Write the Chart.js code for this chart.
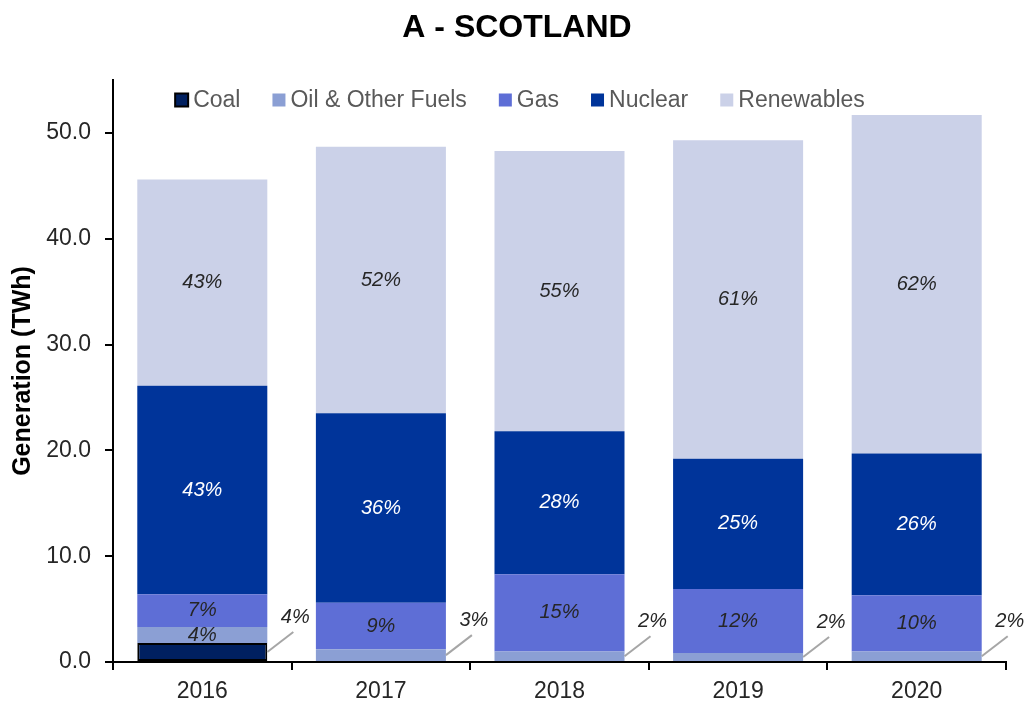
<!DOCTYPE html>
<html lang="en">
<head>
    <meta charset="UTF-8">
    <title>A - SCOTLAND</title>
    <script src="https://cdn.jsdelivr.net/npm/chart.js"></script>
    <style>
        body {
            margin: 0;
            background: #ffffff;
        }
        .chart-box {
            width: 1030px;
            height: 702px;
        }
    </style>
</head>
<body>
    <div class="chart-box">
        <canvas id="genChart"></canvas>
    </div>

    <script>
        // Generation in TWh
        const years = ['2016', '2017', '2018', '2019', '2020'];
        const coal = [1.8, 0, 0, 0, 0];
        const oil = [1.5, 1.2, 1.0, 0.85, 1.0];
        const gas = [3.1, 4.4, 7.3, 6.05, 5.3];
        const nuclear = [19.7, 17.9, 13.5, 12.3, 13.4];
        const renewables = [19.5, 25.2, 26.5, 30.1, 32.0];

        // share labels shown on the bars
        const coalPct = ['4%', '', '', '', ''];
        const oilPct = ['4%', '3%', '2%', '2%', '2%'];
        const gasPct = ['7%', '9%', '15%', '12%', '10%'];
        const nuclearPct = ['43%', '36%', '28%', '25%', '26%'];
        const renewPct = ['43%', '52%', '55%', '61%', '62%'];
        // which series has its label pulled out beside the bar
        const calloutSeries = [0, 1, 1, 1, 1];

        const chartTitle = 'A - SCOTLAND';
        const yTicksMax = 55;
        const yStep = 10;

        const pctLabels = [coalPct, oilPct, gasPct, nuclearPct, renewPct];
        const labelColors = ['#262626', '#262626', '#262626', '#ffffff', '#262626'];

        Chart.defaults.font.family = "'Liberation Sans', Arial, sans-serif";
        Chart.defaults.color = '#262626';

        // percentage labels, with leader line for the small bottom segment
        const pctPlugin = {
            id: 'pctLabels',
            afterDatasetsDraw(chart) {
                const ctx = chart.ctx;
                ctx.save();
                ctx.font = "italic 20px 'Liberation Sans', Arial, sans-serif";
                ctx.textAlign = 'center';
                ctx.textBaseline = 'middle';
                chart.data.datasets.forEach((ds, i) => {
                    const meta = chart.getDatasetMeta(i);
                    meta.data.forEach((bar, j) => {
                        const txt = pctLabels[i][j];
                        if (!txt) return;
                        const midY = (bar.y + bar.base) / 2;
                        if (calloutSeries[j] === i) {
                            const sx = bar.x + bar.width / 2;
                            const ex = sx + 26, ey = midY - 20;
                            ctx.strokeStyle = '#a6a6a6';
                            ctx.lineWidth = 2;
                            ctx.beginPath();
                            ctx.moveTo(sx, midY);
                            ctx.lineTo(ex, ey);
                            ctx.stroke();
                            ctx.fillStyle = '#262626';
                            ctx.fillText(txt, ex + 2, ey - 15);
                        } else {
                            ctx.fillStyle = labelColors[i];
                            ctx.fillText(txt, bar.x, midY);
                        }
                    });
                });
                ctx.restore();
            }
        };

        // title on top, legend inside the plot area
        const legendPlugin = {
            id: 'insideLegend',
            afterDraw(chart) {
                const ctx = chart.ctx;
                ctx.save();
                ctx.font = "bold 32px 'Liberation Sans', Arial, sans-serif";
                ctx.fillStyle = '#000000';
                ctx.textAlign = 'center';
                ctx.textBaseline = 'middle';
                ctx.fillText(chartTitle, 517, 28);

                const box = 13, gap = 5, spacing = 32;
                ctx.font = "23px 'Liberation Sans', Arial, sans-serif";
                ctx.textAlign = 'left';
                const items = chart.data.datasets.map(ds => ({
                    text: ds.label,
                    color: ds.backgroundColor,
                    border: ds.borderWidth > 0 ? ds.borderColor : null,
                    w: ctx.measureText(ds.label).width
                }));
                let total = 0;
                items.forEach((it, k) => {
                    total += box + gap + it.w + (k < items.length - 1 ? spacing : 0);
                });
                let x = 520 - total / 2;
                const y = chart.chartArea.top + 20;
                items.forEach(it => {
                    ctx.fillStyle = it.color;
                    ctx.fillRect(x, y - box / 2, box, box);
                    if (it.border) {
                        ctx.strokeStyle = it.border;
                        ctx.lineWidth = 2;
                        ctx.strokeRect(x, y - box / 2, box, box);
                    }
                    x += box + gap;
                    ctx.fillStyle = '#595959';
                    ctx.fillText(it.text, x, y + 1);
                    x += it.w + spacing;
                });
                ctx.restore();
            }
        };

        const ctx = document.getElementById('genChart').getContext('2d');
        new Chart(ctx, {
            type: 'bar',
            data: {
                labels: years,
                datasets: [
                    { label: 'Coal', data: coal, backgroundColor: '#002060', borderColor: '#000000', borderWidth: 2, borderSkipped: false },
                    { label: 'Oil & Other Fuels', data: oil, backgroundColor: '#8b9fd4', borderWidth: 0 },
                    { label: 'Gas', data: gas, backgroundColor: '#5e6ed6', borderWidth: 0 },
                    { label: 'Nuclear', data: nuclear, backgroundColor: '#00349a', borderWidth: 0 },
                    { label: 'Renewables', data: renewables, backgroundColor: '#cbd1e8', borderWidth: 0 }
                ]
            },
            options: {
                responsive: true,
                maintainAspectRatio: false,
                animation: false,
                categoryPercentage: 1,
                barPercentage: 0.728,
                layout: { padding: { left: 0, right: 24, top: 80, bottom: 0 } },
                plugins: {
                    legend: { display: false },
                    tooltip: { enabled: false },
                    title: { display: false }
                },
                scales: {
                    x: {
                        stacked: true,
                        afterFit(scale) { scale.height = 40; },
                        border: { color: '#000000', width: 2 },
                        grid: { drawOnChartArea: false, drawTicks: true, tickLength: 8, color: '#000000', lineWidth: 2 },
                        ticks: { font: { size: 23 }, color: '#262626', padding: 8 }
                    },
                    y: {
                        stacked: true,
                        min: 0,
                        max: yTicksMax,
                        afterFit(scale) { scale.width = 113; },
                        border: { color: '#000000', width: 2 },
                        grid: { drawOnChartArea: false, drawTicks: true, tickLength: 8, color: '#000000', lineWidth: 2 },
                        ticks: {
                            stepSize: yStep,
                            includeBounds: false,
                            font: { size: 23 },
                            color: '#262626',
                            padding: 14,
                            callback: v => v.toFixed(1)
                        },
                        title: {
                            display: true,
                            text: 'Generation (TWh)',
                            color: '#000000',
                            font: { size: 25, weight: 'bold' },
                            padding: { top: 8, bottom: 0 }
                        }
                    }
                }
            },
            plugins: [pctPlugin, legendPlugin]
        });
    </script>
</body>
</html>
